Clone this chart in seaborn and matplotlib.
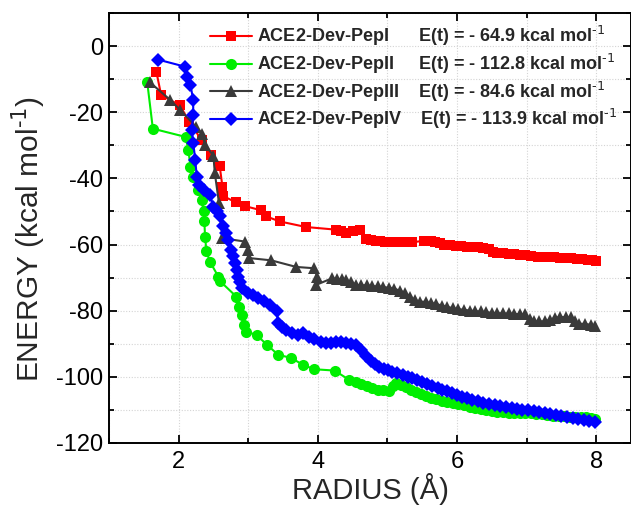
import numpy as np
import matplotlib
matplotlib.use("Agg")
import matplotlib.pyplot as plt
import seaborn as sns
from matplotlib.ticker import MultipleLocator

# ---- data (radius in Å, energy in kcal/mol) ----
pep1_r = [1.68, 1.75, 2.02, 2.15, 2.33, 2.46, 2.59, 2.63, 2.64, 2.82, 2.96, 3.18, 3.25, 3.45,
          3.83, 4.26, 4.33, 4.41, 4.50, 4.60, 4.69, 4.76, 4.83, 4.90, 4.97, 5.04, 5.12, 5.20,
          5.28, 5.36, 5.52, 5.62, 5.69, 5.75, 5.81, 5.90, 5.98, 6.06, 6.14, 6.22, 6.30, 6.38,
          6.46, 6.52, 6.58, 6.66, 6.74, 6.82, 6.90, 6.98, 7.06, 7.16, 7.24, 7.32, 7.40, 7.48,
          7.56, 7.64, 7.72, 7.80, 7.88, 7.94, 8.00]
pep1_e = [-7.6, -14.8, -17.8, -22.8, -28.3, -32.8, -36.2, -42.5, -45.3, -47.2, -48.4, -49.6,
          -51.4, -53.0, -54.7, -55.5, -55.8, -56.4, -56.0, -55.5, -58.4, -58.6, -58.8, -59.0,
          -59.2, -59.3, -59.2, -59.1, -59.1, -59.3, -58.9, -59.0, -59.1, -59.6, -60.0, -60.2,
          -60.4, -60.6, -60.7, -60.8, -60.9, -61.0, -61.5, -62.2, -62.5, -62.6, -62.8, -63.0,
          -63.1, -63.3, -63.4, -63.7, -63.8, -63.7, -63.8, -64.0, -64.0, -64.1, -64.3, -64.4,
          -64.6, -64.7, -64.9]

pep2_r = [1.55, 1.63, 2.10, 2.14, 2.17, 2.21, 2.28, 2.33, 2.36, 2.37, 2.38, 2.40, 2.45, 2.57,
          2.60, 2.83, 2.87, 2.91, 2.94, 2.97, 3.12, 3.27, 3.43, 3.62, 3.79, 3.95, 4.24, 4.45,
          4.55, 4.62, 4.70, 4.78, 4.86, 4.94, 5.02, 5.08, 5.13, 5.20, 5.27, 5.34, 5.41, 5.48,
          5.55, 5.62, 5.70, 5.78, 5.86, 5.94, 6.02, 6.10, 6.18, 6.26, 6.34, 6.42, 6.50, 6.58,
          6.66, 6.74, 6.82, 6.90, 6.98, 7.06, 7.14, 7.22, 7.30, 7.38, 7.46, 7.54, 7.62, 7.70,
          7.78, 7.86, 7.92, 7.98]
pep2_e = [-10.9, -24.9, -27.4, -31.3, -36.4, -39.4, -43.4, -46.5, -50.0, -53.0, -57.6, -62.1,
          -65.2, -69.7, -71.2, -75.8, -78.8, -81.3, -84.3, -86.4, -87.4, -90.4, -93.4, -94.4,
          -96.5, -97.8, -98.2, -101.0, -101.7, -102.4, -102.8, -103.5, -104.0, -104.2, -104.5,
          -103.0, -102.0, -102.6, -103.2, -104.0, -104.8, -105.4, -105.9, -106.5, -106.9,
          -107.3, -107.7, -108.1, -108.4, -108.7, -109.1, -109.4, -109.7, -110.0, -110.4,
          -110.7, -110.9, -111.0, -111.1, -111.1, -111.1, -111.2, -111.4, -111.5, -111.7,
          -111.9, -112.0, -112.1, -112.2, -112.2, -112.3, -112.4, -112.6, -112.8]

pep3_r = [1.59, 1.88, 2.02, 2.25, 2.34, 2.38, 2.50, 2.52, 2.58, 2.63, 2.95, 2.99, 3.01, 3.33,
          3.69, 3.95, 3.99, 3.98, 4.21, 4.28, 4.35, 4.41, 4.48, 4.55, 4.62, 4.70, 4.78, 4.86,
          4.94, 5.02, 5.10, 5.18, 5.26, 5.33, 5.40, 5.47, 5.55, 5.62, 5.70, 5.78, 5.86, 5.94,
          6.02, 6.10, 6.18, 6.26, 6.34, 6.42, 6.50, 6.58, 6.66, 6.74, 6.82, 6.90, 6.98, 7.05,
          7.10, 7.18, 7.26, 7.34, 7.41, 7.48, 7.56, 7.64, 7.70, 7.76, 7.84, 7.92, 7.98]
pep3_e = [-10.9, -16.2, -19.2, -24.3, -26.5, -29.8, -33.1, -38.3, -47.4, -58.1, -59.1, -61.6,
          -64.1, -64.8, -66.8, -67.2, -69.7, -72.2, -70.2, -70.5, -70.6, -70.7, -71.3, -72.2,
          -72.4, -72.3, -72.6, -72.7, -72.9, -73.1, -73.4, -74.0, -74.7, -75.8, -76.9, -77.3,
          -77.4, -77.7, -78.0, -78.5, -78.9, -79.3, -79.6, -79.8, -80.0, -80.2, -80.3, -80.5,
          -80.7, -80.8, -80.9, -80.9, -81.0, -81.1, -81.2, -82.5, -83.3, -83.3, -83.3, -82.8,
          -82.2, -82.0, -82.0, -82.1, -83.2, -84.0, -84.1, -84.3, -84.6]

pep4_r = [1.71, 2.09, 2.12, 2.17, 2.21, 2.21, 2.19, 2.21, 2.24, 2.26, 2.29, 2.37, 2.45, 2.50,
          2.55, 2.60, 2.64, 2.68, 2.71, 2.76, 2.78, 2.81, 2.84, 2.86, 2.88, 2.91, 3.00, 3.07,
          3.14, 3.22, 3.31, 3.41, 3.43, 3.49, 3.55, 3.63, 3.71, 3.79, 3.87, 3.95, 4.04, 4.12,
          4.19, 4.26, 4.34, 4.41, 4.48, 4.55, 4.62, 4.69, 4.76, 4.82, 4.88, 4.95, 5.01, 5.07,
          5.14, 5.22, 5.29, 5.36, 5.43, 5.50, 5.57, 5.64, 5.72, 5.79, 5.86, 5.93, 6.00, 6.07,
          6.14, 6.21, 6.30, 6.38, 6.46, 6.55, 6.62, 6.70, 6.79, 6.86, 6.94, 7.02, 7.10, 7.18,
          7.26, 7.34, 7.42, 7.50, 7.58, 7.66, 7.74, 7.82, 7.90, 7.98]
pep4_e = [-4.0, -6.1, -9.1, -11.6, -16.2, -20.7, -25.2, -29.3, -34.3, -39.4, -41.9, -43.5,
          -44.9, -48.5, -50.0, -51.5, -54.5, -56.5, -58.6, -61.6, -63.5, -65.6, -67.7, -69.7,
          -71.5, -73.2, -74.7, -75.4, -76.2, -77.2, -78.3, -80.3, -83.8, -84.9, -85.8, -86.8,
          -87.4, -86.8, -88.0, -88.7, -89.4, -89.9, -89.7, -89.4, -89.6, -89.9, -90.0, -90.4,
          -92.0, -93.9, -95.2, -96.2, -97.0, -97.6, -98.1, -98.5, -99.0, -99.6, -100.1, -100.5,
          -101.2, -101.8, -102.4, -103.0, -103.5, -104.0, -104.5, -105.0, -105.5, -106.1,
          -106.6, -107.1, -107.5, -107.9, -108.3, -108.6, -108.9, -109.3, -109.6, -109.8,
          -110.0, -110.1, -110.5, -110.8, -111.1, -111.5, -111.8, -112.1, -112.4, -112.7,
          -112.9, -113.2, -113.4, -113.9]

names = ["ACE2-Dev-PepI", "ACE2-Dev-PepII", "ACE2-Dev-PepIII", "ACE2-Dev-PepIV"]
totals = ["- 64.9", "- 112.8", "- 84.6", "- 113.9"]
gaps = [6, 5, 4, 4]

sns.set_style("ticks")
plt.rcParams["font.family"] = ["Liberation Sans", "DejaVu Sans"]
plt.rcParams["mathtext.default"] = "regular"
plt.rcParams["axes.unicode_minus"] = False

fig = plt.figure(figsize=(6.31, 5.16), dpi=100)
ax = fig.add_axes([109 / 631, 1 - 442.5 / 516, 522 / 631, 429 / 516])

styles = [
    (pep1_r, pep1_e, "#ff0000", "s", 7.0),
    (pep2_r, pep2_e, "#00ee00", "o", 8.0),
    (pep3_r, pep3_e, "#3a3a3a", "^", 8.5),
    (pep4_r, pep4_e, "#0000ff", "D", 6.8),
]
for (r, e, col, mk, ms), nm, tot, g in zip(styles, names, totals, gaps):
    sns.lineplot(x=r, y=e, ax=ax, sort=False, estimator=None, color=col, marker=mk,
                 markersize=ms, markeredgewidth=0, linewidth=1.5,
                 label=nm + " " * g + f"E(t) = {tot} kcal mol$^{{\\text{{-1}}}}$")

ax.set_xlim(1.0, 8.5)
ax.set_ylim(-120, 10)
ax.xaxis.set_major_locator(MultipleLocator(2))
ax.xaxis.set_minor_locator(MultipleLocator(1))
ax.yaxis.set_major_locator(MultipleLocator(20))
ax.yaxis.set_minor_locator(MultipleLocator(10))
ax.grid(True, which="both", color="#d4d4d4", linestyle=(0, (1, 1.5)), linewidth=0.8)
ax.set_axisbelow(True)
ax.tick_params(which="both", direction="in", top=True, right=True, width=1.3,
               labelsize=17, colors="black")
ax.tick_params(axis="y", pad=4)
ax.tick_params(axis="x", pad=6)
ax.tick_params(which="major", length=6)
ax.tick_params(which="minor", length=3.5)
for sp in ax.spines.values():
    sp.set_linewidth(1.4)
    sp.set_color("black")

ax.set_xlabel("RADIUS (Å)", fontsize=21, labelpad=0)
ax.set_ylabel("ENERGY (kcal mol$^{\\text{-1}}$)", fontsize=21.5)
ax.yaxis.set_label_coords(-0.118, 0.475)

leg = ax.legend(loc="upper left", bbox_to_anchor=(0.1935, 0.975), frameon=False,
                borderpad=0, borderaxespad=0, handlelength=2.3, handletextpad=0.33,
                labelspacing=0.2, prop={"weight": "bold", "size": 13})

fig.savefig("out.png", dpi=100)
